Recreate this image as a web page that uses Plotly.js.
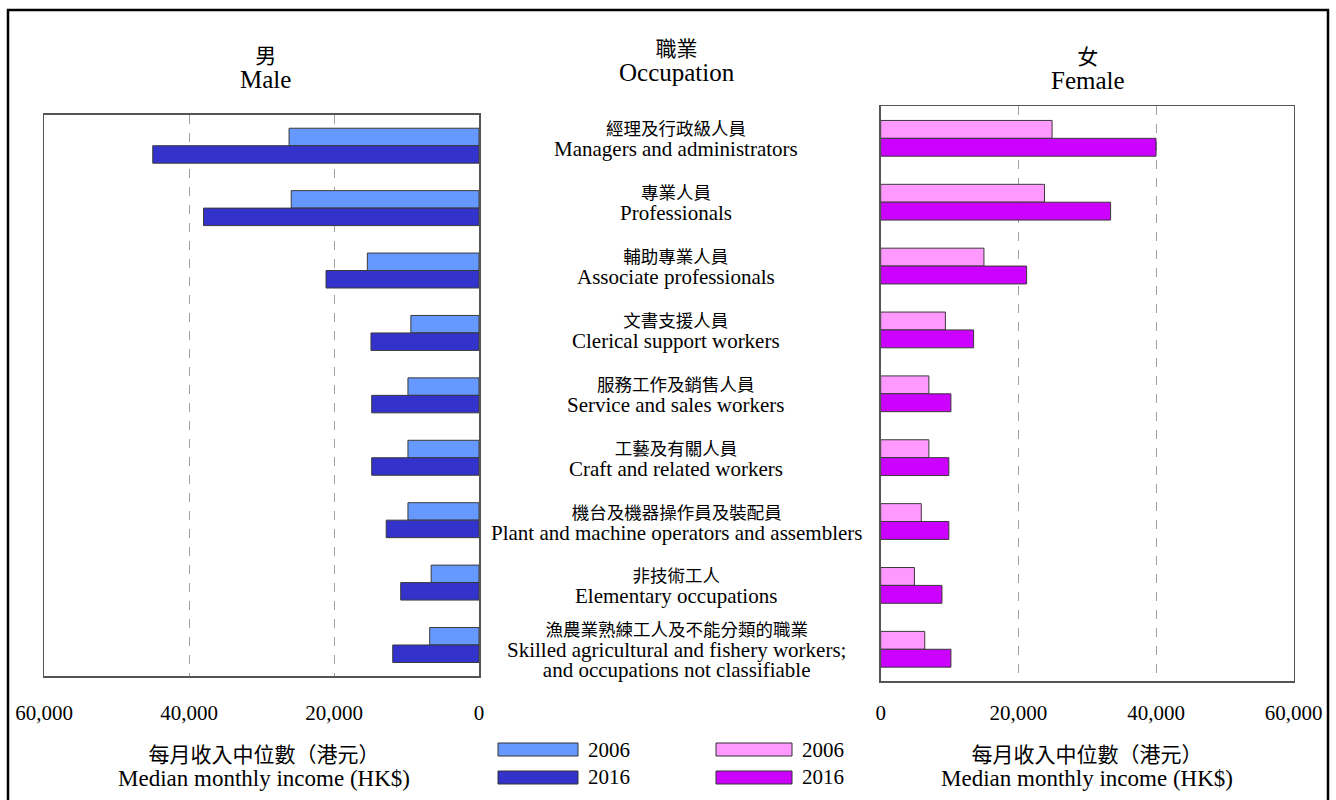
<!DOCTYPE html>
<html>
<head>
<meta charset="utf-8">
<script src="https://cdn.plot.ly/plotly-3.0.1.min.js"></script>
<style>
  html, body { margin: 0; padding: 0; background: #fff; }
  #chart { width: 1336px; height: 800px; }
</style>
</head>
<body>
<div id="chart"></div>
<script>
// Occupation categories (Chinese and English labels)
const occupationsZh = [
  '經理及行政級人員',
  '專業人員',
  '輔助專業人員',
  '文書支援人員',
  '服務工作及銷售人員',
  '工藝及有關人員',
  '機台及機器操作員及裝配員',
  '非技術工人',
  '漁農業熟練工人及不能分類的職業'
];
const occupationsEn = [
  'Managers and administrators',
  'Professionals',
  'Associate professionals',
  'Clerical support workers',
  'Service and sales workers',
  'Craft and related workers',
  'Plant and machine operators and assemblers',
  'Elementary occupations',
  'Skilled agricultural and fishery workers;<br>and occupations not classifiable'
];

const years = ['2006', '2016'];

// Median monthly income (HK$)
const male2006 = [26200, 25900, 15400, 9400, 9800, 9800, 9800, 6600, 6800];
const male2016 = [45000, 38000, 21100, 14900, 14800, 14800, 12800, 10800, 11900];
const female2006 = [24900, 23800, 15000, 9400, 7000, 7000, 5900, 4900, 6400];
const female2016 = [40000, 33400, 21200, 13500, 10200, 9900, 9900, 8900, 10200];

const tickValues = [0, 20000, 40000, 60000];
const tickLabels = ['0', '20,000', '40,000', '60,000'];

const maleColors = ['#6699FF', '#3333CC'];
const femaleColors = ['#FF99FF', '#CC00FF'];

const headerZh = ['男', '職業', '女'];
const headerEn = ['Male', 'Occupation', 'Female'];
const axisTitleZh = '每月收入中位數（港元）';
const axisTitleEn = 'Median monthly income (HK$)';

// ---- page geometry helpers (paper units from pixels) ----
const W = 1336, H = 800;
const px = v => v / W;
const py = v => 1 - v / H;
const serif = 'Liberation Serif, Times New Roman, serif';
const cjk = 'Noto Sans CJK TC, Noto Sans CJK SC, sans-serif';

const barLine = { color: '#3a3a3a', width: 1 };

const traces = [
  { name: years[0], x: male2006, y: occupationsEn, xaxis: 'x', yaxis: 'y',
    marker: { color: maleColors[0], line: barLine } },
  { name: years[1], x: male2016, y: occupationsEn, xaxis: 'x', yaxis: 'y',
    marker: { color: maleColors[1], line: barLine } },
  { name: years[0], x: female2006, y: occupationsEn, xaxis: 'x2', yaxis: 'y2',
    marker: { color: femaleColors[0], line: barLine } },
  { name: years[1], x: female2016, y: occupationsEn, xaxis: 'x2', yaxis: 'y2',
    marker: { color: femaleColors[1], line: barLine } }
].map(t => Object.assign({ type: 'bar', orientation: 'h', showlegend: false, hoverinfo: 'x+name' }, t));

const xCommon = {
  tickmode: 'array', tickvals: tickValues, ticktext: tickLabels,
  ticks: '', showline: true, mirror: true, linecolor: '#555', linewidth: 1.5,
  showgrid: true, gridcolor: '#a0a0a0', griddash: 'dash', gridwidth: 1,
  zeroline: false, fixedrange: true,
  tickfont: { family: serif, size: 21, color: '#000' }
};
const yCommon = {
  type: 'category', range: [occupationsEn.length - 0.5, -0.5],
  showticklabels: false, ticks: '', showgrid: false, zeroline: false,
  showline: true, mirror: true, linecolor: '#555', linewidth: 1.5, fixedrange: true
};

const annotations = [];
const text = (t, x, y, size, family, extra) => annotations.push(Object.assign({
  text: t, x: x, y: y, xref: 'paper', yref: 'paper', showarrow: false,
  xanchor: 'center', yanchor: 'middle', font: { family: family, size: size, color: '#000' }
}, extra || {}));

// two-line bilingual block: Chinese line above English line(s)
const span = (t, family, size) => `<span style="font-family:${family};font-size:${size}px">${t}</span>`;
const bilingual = (zh, en, zhSize, enSize) =>
  [span(zh, cjk, zhSize)].concat(en.split('<br>').map(l => span(l, serif, enSize))).join('<br>');

// panel headers
text(bilingual(headerZh[0], headerEn[0], 21, 25), px(265), py(66), 19.5, serif);
text(bilingual(headerZh[1], headerEn[1], 21, 25), px(677), py(59), 19.5, serif);
text(bilingual(headerZh[2], headerEn[2], 21, 25), px(1088), py(67), 19.5, serif);

// occupation labels in the middle column, centred on each category row
occupationsEn.forEach((en, i) => {
  annotations.push({
    text: bilingual(occupationsZh[i], en, 17.5, 21),
    xref: 'paper', x: px(676), yref: 'y2', y: occupationsEn[i],
    showarrow: false, xanchor: 'center', yanchor: 'middle',
    font: { family: serif, size: 15.8, color: '#000' }
  });
});

// axis titles
text(bilingual(axisTitleZh, axisTitleEn, 21, 23), px(264), py(764), 18.5, serif);
text(bilingual(axisTitleZh, axisTitleEn, 21, 23), px(1087), py(764), 18.5, serif);

// legends (wide swatches)
const shapes = [];
const legendSpec = [
  { colors: maleColors, x0: 498, x1: 578, tx: 586 },
  { colors: femaleColors, x0: 716, x1: 792, tx: 800 }
];
const legendRows = [{ y0: 743, y1: 756, ty: 750 }, { y0: 771, y1: 784, ty: 777 }];
legendSpec.forEach(g => {
  legendRows.forEach((r, k) => {
    shapes.push({
      type: 'rect', xref: 'paper', yref: 'paper',
      x0: px(g.x0), x1: px(g.x1), y0: py(r.y1), y1: py(r.y0),
      fillcolor: g.colors[k], line: { color: '#333', width: 1 }
    });
    text(years[k], px(g.tx), py(r.ty), 21, serif, { xanchor: 'left' });
  });
});

// outer frame
shapes.push({
  type: 'rect', xref: 'paper', yref: 'paper',
  x0: px(8), x1: px(1328), y0: py(812), y1: py(10),
  line: { color: '#000', width: 2.5 }, fillcolor: 'rgba(0,0,0,0)', layer: 'below'
});

const layout = {
  width: W, height: H,
  margin: { l: 0, r: 0, t: 0, b: 0 },
  paper_bgcolor: '#fff', plot_bgcolor: '#fff',
  barmode: 'group', bargap: 0.44, bargroupgap: 0,
  showlegend: false,
  xaxis: Object.assign({}, xCommon, { domain: [px(44), px(479)], range: [60000, 0], anchor: 'y', ticklabelstandoff: 17 }),
  xaxis2: Object.assign({}, xCommon, { domain: [px(880.7), px(1293.7)], range: [0, 60000], anchor: 'y2', ticklabelstandoff: 12 }),
  yaxis: Object.assign({}, yCommon, { domain: [py(676.2), py(114.5)], anchor: 'x' }),
  yaxis2: Object.assign({}, yCommon, { domain: [py(681.2), py(106.4)], anchor: 'x2' }),
  annotations: annotations,
  shapes: shapes
};

Plotly.newPlot('chart', traces, layout, { displayModeBar: false, staticPlot: true });
</script>
</body>
</html>
